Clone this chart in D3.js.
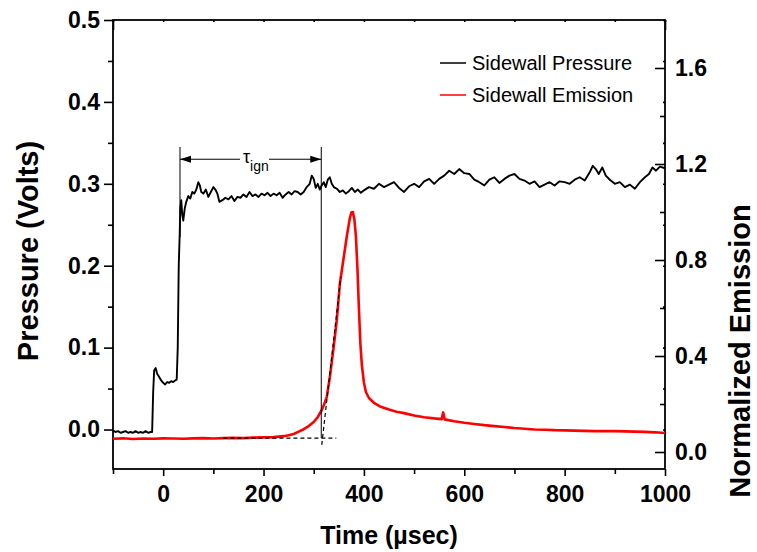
<!DOCTYPE html>
<html lang="en">
<head>
<meta charset="UTF-8">
<title>Sidewall pressure and emission</title>
<style>
    body {
        margin: 0;
        padding: 0;
        background-color: #fff;
    }
    svg text {
        font-family: "Liberation Sans", Arial, sans-serif;
    }
    .tick-label {
        font-weight: bold;
        font-size: 23px;
    }
    .axis-title {
        font-weight: bold;
        font-size: 25px;
    }
    .side-title {
        font-weight: bold;
        font-size: 29px;
    }
</style>
</head>
<body>
<svg id="chart" width="757" height="552"></svg>

<script src="https://d3js.org/d3.v7.min.js"></script>
<script>
    // sidewall pressure (Volts)
    var pressureTime = [-100, -95, -90, -85, -80, -75, -70, -65, -60, -55, -50, -45, -40, -35, -30, -25, -22,
        -20, -18, -15, -12, -8, -4, 0, 4, 8, 12, 16, 20, 24, 27, 29, 31, 33, 34, 36, 38, 40, 43, 46, 50,
        54, 58, 62, 66, 70, 73, 76, 80, 85, 90, 95, 100, 104, 108, 112, 118, 124, 130, 136, 142, 148, 154,
        160, 166, 172, 178, 184, 190, 196, 202, 208, 214, 220, 226, 232, 238, 244, 250, 256, 262, 268, 274,
        280, 286, 292, 296, 300, 304, 308, 312, 316, 320, 324, 328, 332, 336, 340, 346, 352, 358, 364, 370,
        376, 382, 388, 394, 400, 410, 420, 430, 440, 450, 460, 470, 480, 490, 500, 510, 520, 530, 540, 550,
        560, 570, 580, 590, 600, 610, 620, 630, 640, 650, 660, 670, 680, 690, 700, 710, 720, 730, 740, 750,
        760, 770, 780, 790, 800, 810, 820, 830, 840, 850, 856, 862, 868, 875, 882, 890, 900, 910, 920, 930,
        940, 950, 960, 968, 975, 982, 990, 1000];
    var pressureVolts = [-0.001, -0.003, -0.002, -0.004, -0.003, -0.002, -0.004, -0.003, -0.004, -0.002, -0.004, -0.003, -0.004, -0.002, -0.004, -0.003, -0.003,
        0.045, 0.072, 0.075, 0.068, 0.064, 0.060, 0.057, 0.055, 0.058, 0.057, 0.059, 0.058, 0.060, 0.061, 0.100, 0.200, 0.240, 0.270, 0.280, 0.262, 0.255, 0.270, 0.278, 0.285,
        0.282, 0.290, 0.288, 0.293, 0.302, 0.298, 0.290, 0.288, 0.293, 0.284, 0.290, 0.296, 0.293, 0.288, 0.278, 0.280, 0.283, 0.281, 0.285, 0.279, 0.284, 0.283,
        0.287, 0.284, 0.290, 0.285, 0.287, 0.284, 0.288, 0.286, 0.289, 0.285, 0.288, 0.286, 0.289, 0.283, 0.287, 0.290, 0.287, 0.291, 0.290, 0.287,
        0.290, 0.296, 0.300, 0.310, 0.306, 0.295, 0.300, 0.293, 0.298, 0.302, 0.296, 0.305, 0.308, 0.300, 0.296, 0.294, 0.290, 0.292, 0.288, 0.291,
        0.295, 0.290, 0.293, 0.289, 0.292, 0.296, 0.294, 0.300, 0.296, 0.299, 0.302, 0.295, 0.290, 0.297, 0.300, 0.296, 0.303, 0.306, 0.300, 0.306,
        0.310, 0.316, 0.312, 0.318, 0.313, 0.312, 0.305, 0.302, 0.298, 0.305, 0.308, 0.301, 0.306, 0.310, 0.312, 0.306, 0.304, 0.300, 0.303, 0.296,
        0.299, 0.302, 0.298, 0.303, 0.302, 0.300, 0.305, 0.308, 0.304, 0.314, 0.322, 0.318, 0.312, 0.320, 0.310, 0.305, 0.300, 0.302, 0.296, 0.299,
        0.294, 0.302, 0.308, 0.312, 0.320, 0.316, 0.321, 0.319];

    // sidewall emission (normalized)
    var emissionTime = [-100, -80, -60, -40, -20, 0, 20, 40, 60, 80, 100, 120, 140, 160, 180, 200, 220, 240, 250, 260,
        270, 280, 290, 300, 308, 316, 322, 326, 332, 339, 346, 352, 359, 366, 372, 375, 378, 381, 384, 387,
        390, 393, 396, 400, 404, 410, 420, 432, 450, 465, 480, 500, 520, 540, 555, 558, 561, 580, 600, 620,
        640, 660, 680, 700, 720, 740, 760, 780, 800, 820, 840, 860, 880, 900, 920, 940, 960, 980, 1000];
    var emissionNorm = [0.055, 0.057, 0.054, 0.056, 0.055, 0.057, 0.056, 0.055, 0.057, 0.058, 0.056, 0.058, 0.059, 0.058, 0.060, 0.061, 0.062, 0.066, 0.070, 0.075,
        0.085, 0.095, 0.108, 0.125, 0.145, 0.175, 0.205, 0.230, 0.310, 0.425, 0.550, 0.700, 0.800, 0.900, 0.975, 0.998, 1.000, 0.970, 0.900, 0.770,
        0.600, 0.450, 0.360, 0.290, 0.250, 0.225, 0.205, 0.190, 0.177, 0.168, 0.162, 0.152, 0.145, 0.140, 0.137, 0.165, 0.136, 0.128, 0.122, 0.117,
        0.112, 0.108, 0.104, 0.100, 0.097, 0.094, 0.093, 0.091, 0.090, 0.089, 0.088, 0.087, 0.087, 0.087, 0.086, 0.085, 0.084, 0.082, 0.079];

    // tick labels
    var timeTicks = [0, 200, 400, 600, 800, 1000];
    var timeMinor = [-100, 100, 300, 500, 700, 900];
    var pressureTicks = [0.0, 0.1, 0.2, 0.3, 0.4, 0.5];
    var pressureMinor = [0.05, 0.15, 0.25, 0.35, 0.45];
    var emissionTicks = [0.0, 0.4, 0.8, 1.2, 1.6];
    var emissionMinor = [0.2, 0.6, 1.0, 1.4];

    // ignition delay construction
    var tIgnStart = 33.5, tIgnEnd = 315;
    var baselineTime = [120, 345], baselineLevel = 0.058;
    var tangentTime = [316, 354], tangentLevel = [0.03, 0.73];

    var svg = d3.select("#chart");
    var plotL = 113, plotR = 665, plotT = 20, plotB = 469;

    var x = d3.scaleLinear().domain([-100, 1000]).range([plotL, plotR]);
    var yP = d3.scaleLinear().domain([-0.0482, 0.5]).range([plotB, plotT]);
    var yE = d3.scaleLinear().domain([-0.0708, 1.8]).range([plotB, plotT]);

    function styleAxis(g) {
        g.select(".domain").remove();
        g.selectAll("line").attr("stroke", "#000").attr("stroke-width", 1.6);
        g.selectAll("text").attr("class", "tick-label").attr("fill", "#000");
    }

    // bottom axis
    svg.append("g").attr("transform", "translate(0," + plotB + ")")
        .call(d3.axisBottom(x).tickValues(timeTicks).tickSize(7).tickPadding(10).tickFormat(d3.format("d")))
        .call(styleAxis);
    svg.append("g").attr("transform", "translate(0," + plotB + ")")
        .call(d3.axisBottom(x).tickValues(timeMinor).tickSize(5).tickFormat(""))
        .call(styleAxis);

    // top axis, tiny marks
    svg.append("g").attr("transform", "translate(0," + plotT + ")")
        .call(d3.axisBottom(x).tickValues(timeMinor.concat(timeTicks)).tickSize(2).tickFormat(""))
        .call(styleAxis);
    svg.append("g").attr("transform", "translate(0," + plotT + ")")
        .call(d3.axisBottom(x).tickValues([-100, 1000]).tickSize(10).tickFormat(""))
        .call(styleAxis);

    // left axis
    svg.append("g").attr("transform", "translate(" + plotL + ",0)")
        .call(d3.axisLeft(yP).tickValues(pressureTicks).tickSize(9).tickPadding(4).tickFormat(d3.format(".1f")))
        .call(styleAxis);
    svg.append("g").attr("transform", "translate(" + plotL + ",0)")
        .call(d3.axisLeft(yP).tickValues(pressureMinor).tickSize(5).tickFormat(""))
        .call(styleAxis);

    // right axis, ticks pointing inward
    svg.append("g").attr("transform", "translate(" + plotR + ",0)")
        .call(d3.axisRight(yE).tickValues(emissionTicks).tickSize(-10).tickPadding(10).tickFormat(d3.format(".1f")))
        .call(styleAxis);
    svg.append("g").attr("transform", "translate(" + plotR + ",0)")
        .call(d3.axisRight(yE).tickValues(emissionMinor).tickSize(-5).tickFormat(""))
        .call(styleAxis);
    svg.append("g").attr("transform", "translate(" + plotR + ",0)")
        .call(d3.axisRight(yP).tickValues(pressureTicks.concat(pressureMinor)).tickSize(-2).tickFormat(""))
        .call(styleAxis);

    // frame
    svg.append("rect")
        .attr("x", plotL).attr("y", plotT)
        .attr("width", plotR - plotL).attr("height", plotB - plotT)
        .attr("fill", "none").attr("stroke", "#000").attr("stroke-width", 1.8);

    // traces
    var emissionLine = d3.line()
        .x(function(d, i) { return x(emissionTime[i]); })
        .y(function(d) { return yE(d); });
    svg.append("path")
        .attr("d", emissionLine(emissionNorm))
        .attr("fill", "none").attr("stroke", "#ff0000").attr("stroke-width", 2.6)
        .attr("stroke-linejoin", "round");

    var pressureLine = d3.line()
        .x(function(d, i) { return x(pressureTime[i]); })
        .y(function(d) { return yP(d); });
    svg.append("path")
        .attr("d", pressureLine(pressureVolts))
        .attr("fill", "none").attr("stroke", "#000").attr("stroke-width", 1.9)
        .attr("stroke-linejoin", "round");

    // dashed baseline and tangent
    svg.append("line")
        .attr("x1", x(baselineTime[0])).attr("x2", x(baselineTime[1]))
        .attr("y1", yE(baselineLevel)).attr("y2", yE(baselineLevel))
        .attr("stroke", "#000").attr("stroke-width", 1.2).attr("stroke-dasharray", "4,3");
    svg.append("line")
        .attr("x1", x(tangentTime[0])).attr("x2", x(tangentTime[1]))
        .attr("y1", yE(tangentLevel[0])).attr("y2", yE(tangentLevel[1]))
        .attr("stroke", "#000").attr("stroke-width", 1.2).attr("stroke-dasharray", "4,3");

    // tau_ign marker
    var tauTop = 0.345, arrowLevel = 0.330;
    svg.append("line")
        .attr("x1", x(tIgnStart)).attr("x2", x(tIgnStart))
        .attr("y1", yP(tauTop)).attr("y2", yP(0.235))
        .attr("stroke", "#000").attr("stroke-width", 1);
    svg.append("line")
        .attr("x1", x(tIgnEnd)).attr("x2", x(tIgnEnd))
        .attr("y1", yP(tauTop)).attr("y2", yE(baselineLevel))
        .attr("stroke", "#000").attr("stroke-width", 1);

    var ay = yP(arrowLevel);
    var ax1 = x(tIgnStart), ax2 = x(tIgnEnd);
    svg.append("line").attr("x1", ax1).attr("x2", ax1 + 60).attr("y1", ay).attr("y2", ay)
        .attr("stroke", "#000").attr("stroke-width", 1);
    svg.append("line").attr("x1", ax1 + 89).attr("x2", ax2).attr("y1", ay).attr("y2", ay)
        .attr("stroke", "#000").attr("stroke-width", 1);
    svg.append("path")
        .attr("d", "M" + ax1 + "," + ay + "l11,-3.5l0,7z").attr("fill", "#000");
    svg.append("path")
        .attr("d", "M" + ax2 + "," + ay + "l-11,-3.5l0,7z").attr("fill", "#000");
    var tau = svg.append("text")
        .attr("x", ax1 + 63).attr("y", ay + 4)
        .attr("font-size", "18px").attr("fill", "#000");
    tau.append("tspan").text("\u03c4");
    tau.append("tspan").attr("dy", 8).attr("font-size", "14px").text("ign");

    // legend
    var legend = [
        { name: "Sidewall Pressure", color: "#000" },
        { name: "Sidewall Emission", color: "#ff0000" }
    ];
    legend.forEach(function(d, i) {
        var ly = 63 + i * 32;
        svg.append("line").attr("x1", 440).attr("x2", 466).attr("y1", ly).attr("y2", ly)
            .attr("stroke", d.color).attr("stroke-width", 1.5);
        svg.append("text").attr("x", 472).attr("y", ly + 7)
            .attr("font-size", "20px").attr("fill", "#000").text(d.name);
    });

    // axis titles
    svg.append("text").attr("class", "axis-title")
        .attr("x", 389).attr("y", 544).attr("text-anchor", "middle")
        .text("Time (\u00b5sec)");
    svg.append("text").attr("class", "side-title")
        .attr("transform", "translate(38,251) rotate(-90)").attr("text-anchor", "middle")
        .text("Pressure (Volts)");
    svg.append("text").attr("class", "side-title")
        .attr("transform", "translate(750,351) rotate(-90)").attr("text-anchor", "middle")
        .text("Normalized Emission");
</script>
</body>
</html>
